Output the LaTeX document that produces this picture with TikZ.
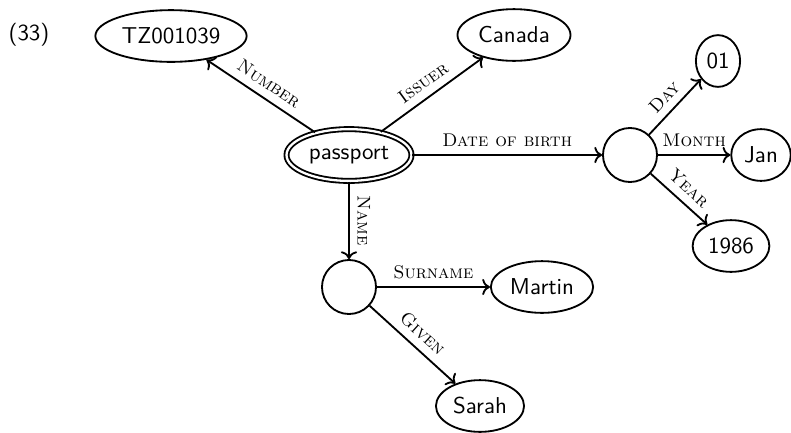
\documentclass[tikz,border=0pt]{standalone}
\usepackage{fontspec}
\usepackage{tikz}
\usetikzlibrary{arrows.meta, positioning, shapes.geometric}

\tikzset{
  val/.style={draw, ellipse, thick, font=\sffamily, minimum height=22.5pt, inner sep=1.8pt},
  blank/.style={draw, circle, thick, minimum size=23.5pt},
  attr/.style={->, thick},
  feat/.style={font=\footnotesize\scshape, sloped, above}
}

\begin{document}
\begin{tikzpicture}[x=0.435pt, y=-0.435pt]
  \useasboundingbox (0,0) rectangle (791,432);
  \node[font=\sffamily] (ex) at (29,35) {(33)};
  \node[val] (num) at (171,36) {TZ001039};
  \node[val] (iss) at (514,35) {Canada};
  \node[val, double, double distance=1pt] (pp) at (349,155) {passport};
  \node[blank] (dob) at (630,155) {};
  \node[val] (day) at (718,61) {01};
  \node[val] (mon) at (761,155) {Jan};
  \node[val] (yr) at (731,246) {1986};
  \node[blank] (nm) at (349,287) {};
  \node[val] (sur) at (542,287) {Martin};
  \node[val] (giv) at (480,406) {Sarah};
  % passport
  \draw[attr] (pp) -- node[feat] {Number} (num);
  \draw[attr] (pp) -- node[feat] {Issuer} (iss);
  \draw[attr] (pp) -- node[feat] {Date of birth} (dob);
  \draw[attr] (pp) -- node[feat] {Name} (nm);
  % date
  \draw[attr] (dob) -- node[feat] {Day} (day);
  \draw[attr] (dob) -- node[feat] {Month} (mon);
  \draw[attr] (dob) -- node[feat] {Year} (yr);
  % name
  \draw[attr] (nm) -- node[feat] {Surname} (sur);
  \draw[attr] (nm) -- node[feat] {Given} (giv);
\end{tikzpicture}
\end{document}
